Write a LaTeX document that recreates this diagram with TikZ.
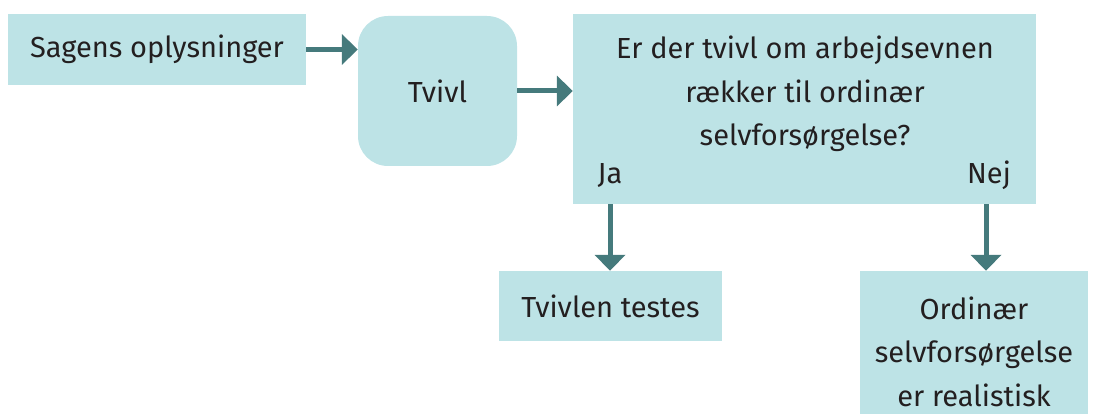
\documentclass[tikz,border=0pt]{standalone}
\usepackage{fontspec}
\setmainfont{Fira Sans}
\definecolor{boxteal}{RGB}{189, 227, 230}
\definecolor{arrowteal}{RGB}{69, 122, 124}
\definecolor{textdark}{RGB}{35, 31, 32}
\usetikzlibrary{arrows.meta, positioning, calc}

\begin{document}
\begin{tikzpicture}[x=1pt, y=-1pt,
    box/.style={fill=boxteal, inner sep=0pt},
    txt/.style={text=textdark, align=center, font=\fontsize{29}{43.5}\selectfont},
    flow/.style={arrowteal, line width=5pt, -{Triangle[width=30pt, length=16pt]}}]
  \useasboundingbox (0, 0) rectangle (1099, 414);
  \clip (0, 0) rectangle (1099, 414);

  % Boxes
  \node[box, txt, minimum width=298, minimum height=71] (sag) at (157, 49.5) {Sagens oplysninger};
  \node[box, txt, rounded corners=30pt, minimum width=159, minimum height=150] (tvivl) at (437.5, 91) {Tvivl};
  \node[box, minimum width=463, minimum height=190] (q) at (804.5, 109) {};
  \node[txt] (qtext) at (805, 94) {Er der tvivl om arbejdsevnen\\rækker til ordinær\\selvforsørgelse?};
  \node[txt] (ja) at (610, 175) {Ja};
  \node[txt] (nej) at (989, 175) {Nej};
  \node[box, txt, minimum width=223, minimum height=70] (test) at (610.5, 306) {Tvivlen testes};
  \node[box, txt, minimum width=228, minimum height=161] (ord) at (974, 351.5) {Ordinær\\selvforsørgelse\\er realistisk};

  % Connectors
  \draw[flow] (sag.east) -- (sag.east -| tvivl.west);
  \draw[flow] (tvivl.east) -- (tvivl.east -| q.west);
  \draw[flow] (ja |- q.south) -- (ja |- test.north);
  \draw[flow] ([xshift=-3pt]nej |- q.south) -- ([xshift=-3pt]nej |- ord.north);
\end{tikzpicture}
\end{document}
